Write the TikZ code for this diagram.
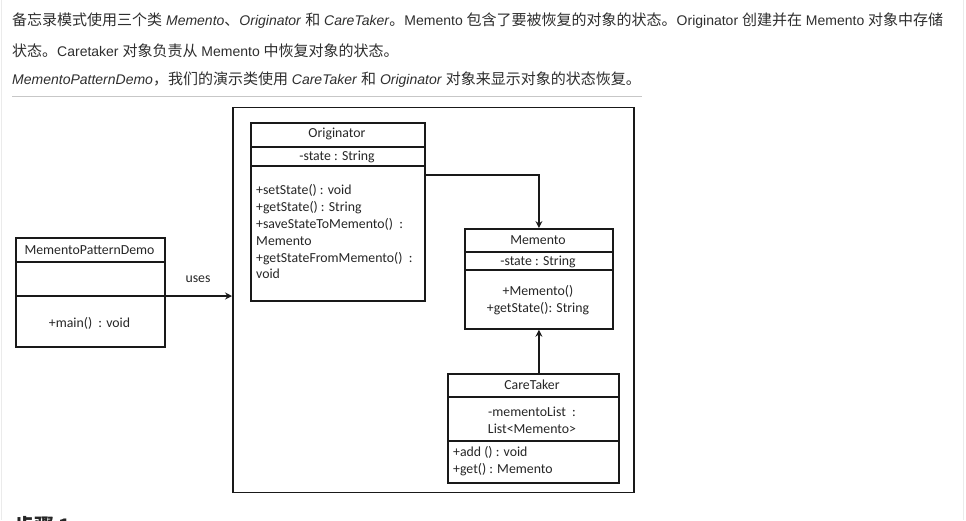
\documentclass[tikz,border=0pt]{standalone}
\usepackage{fontspec}
\setmainfont{Liberation Sans}
\newfontfamily\cjk{Noto Sans CJK SC}
\newfontfamily\umlfont{Carlito}
\usetikzlibrary{arrows.meta,calc}
\newcommand\zh[1]{{\cjk\fontsize{15}{16}\selectfont #1}}
\begin{document}
\begin{tikzpicture}[x=1pt,y=-1pt,
  intro/.style={anchor=west,inner sep=0pt,text=black!82,font=\fontsize{14}{16}\selectfont},
  umlbox/.style={draw=black!90,line width=1.8pt,anchor=north west,inner sep=0pt},
  divider/.style={draw=black!90,line width=1.8pt},
  umltxt/.style={inner sep=0pt,text=black!85,font=\umlfont\fontsize{13.8}{16.8}\selectfont},
  arr/.style={draw=black!90,line width=1.8pt,-{Stealth[length=7pt,width=7pt,inset=2.5pt]}}
]
\useasboundingbox (0,0) rectangle (966,520);
\fill[white] (0,0) rectangle (966,520);
\draw[black!8,line width=1pt] (1,0) -- (1,520);
\draw[black!8,line width=1.5pt] (963.5,0) -- (963.5,520);

% intro text
\node[intro] (l1) at (12,21) {\zh{备忘录模式使用三个类} \textit{Memento}\zh{、}\textit{Originator} \zh{和} \textit{CareTaker}\zh{。}Memento \zh{包含了要被恢复的对象的状态。}Originator \zh{创建并在} Memento \zh{对象中存储}};
\node[intro] (l2) at (12,51) {\zh{状态。}Caretaker \zh{对象负责从} Memento \zh{中恢复对象的状态。}};
\node[intro] (l3) at (12,80) {\textit{MementoPatternDemo}\zh{，我们的演示类使用} \textit{CareTaker} \zh{和} \textit{Originator} \zh{对象来显示对象的状态恢复。}};
\draw[black!22,line width=1pt] (12,96) -- (642,96);

% outer frame
\node[umlbox,minimum width=401pt,minimum height=385pt] (outer) at (232,106.5) {};

% Originator
\node[umlbox,minimum width=174pt,minimum height=178pt] (orig) at (250,122) {};
\draw[divider] (250,147) -- (424,147);
\draw[divider] (250,166) -- (424,166);
\node[umltxt] (origt) at (337,134) {Originator};
\node[umltxt] (origa) at (337,157) {-state : String};
\node[umltxt,anchor=north west,align=left] (origm) at (256,184.5) {+setState() : void\\+getState() : String\\+saveStateToMemento()~~:\\Memento\\+getStateFromMemento()~~:\\void};

% Memento
\node[umlbox,minimum width=148pt,minimum height=100pt] (mem) at (464,228) {};
\draw[divider] (464,252) -- (612,252);
\draw[divider] (464,270) -- (612,270);
\node[umltxt] (memt) at (538,240) {Memento};
\node[umltxt] (mema) at (538,262) {-state : String};
\node[umltxt,align=center] (memm) at (538,300) {+Memento()\\+getState(): String};

% CareTaker
\node[umlbox,minimum width=171pt,minimum height=109pt] (care) at (447,373) {};
\draw[divider] (447,397) -- (618,397);
\draw[divider] (447,441) -- (618,441);
\node[umltxt] (caret) at (532,385) {CareTaker};
\node[umltxt,align=center] (carea) at (532,420) {-mementoList~~:\\List<Memento>};
\node[umltxt,anchor=north west,align=left] (carem) at (453,446) {+add () : void\\+get() : Memento};

% MementoPatternDemo
\node[umlbox,minimum width=149pt,minimum height=109pt] (demo) at (15,237) {};
\draw[divider] (15,262) -- (164,262);
\draw[divider] (15,296) -- (164,296);
\node[umltxt] (demot) at (89.5,250) {MementoPatternDemo};
\node[umltxt] (demom) at (89.5,323) {+main()~ : void};
\coordinate (demomid) at (164,296);
\node[umltxt] (uses) at (198,279) {uses};

% connectors
\draw[arr] (demomid) -- (demomid -| outer.west);
\coordinate (origout) at (424,175);
\draw[arr] (origout) -| (mem.north);
\draw[arr] (care.north -| mem.south) -- (mem.south);

% partially visible heading
\node[anchor=base west,inner sep=0pt,text=black!85,font=\cjk\bfseries\fontsize{20}{22}\selectfont] (step) at (14,533) {步骤 1};
\end{tikzpicture}
\end{document}
